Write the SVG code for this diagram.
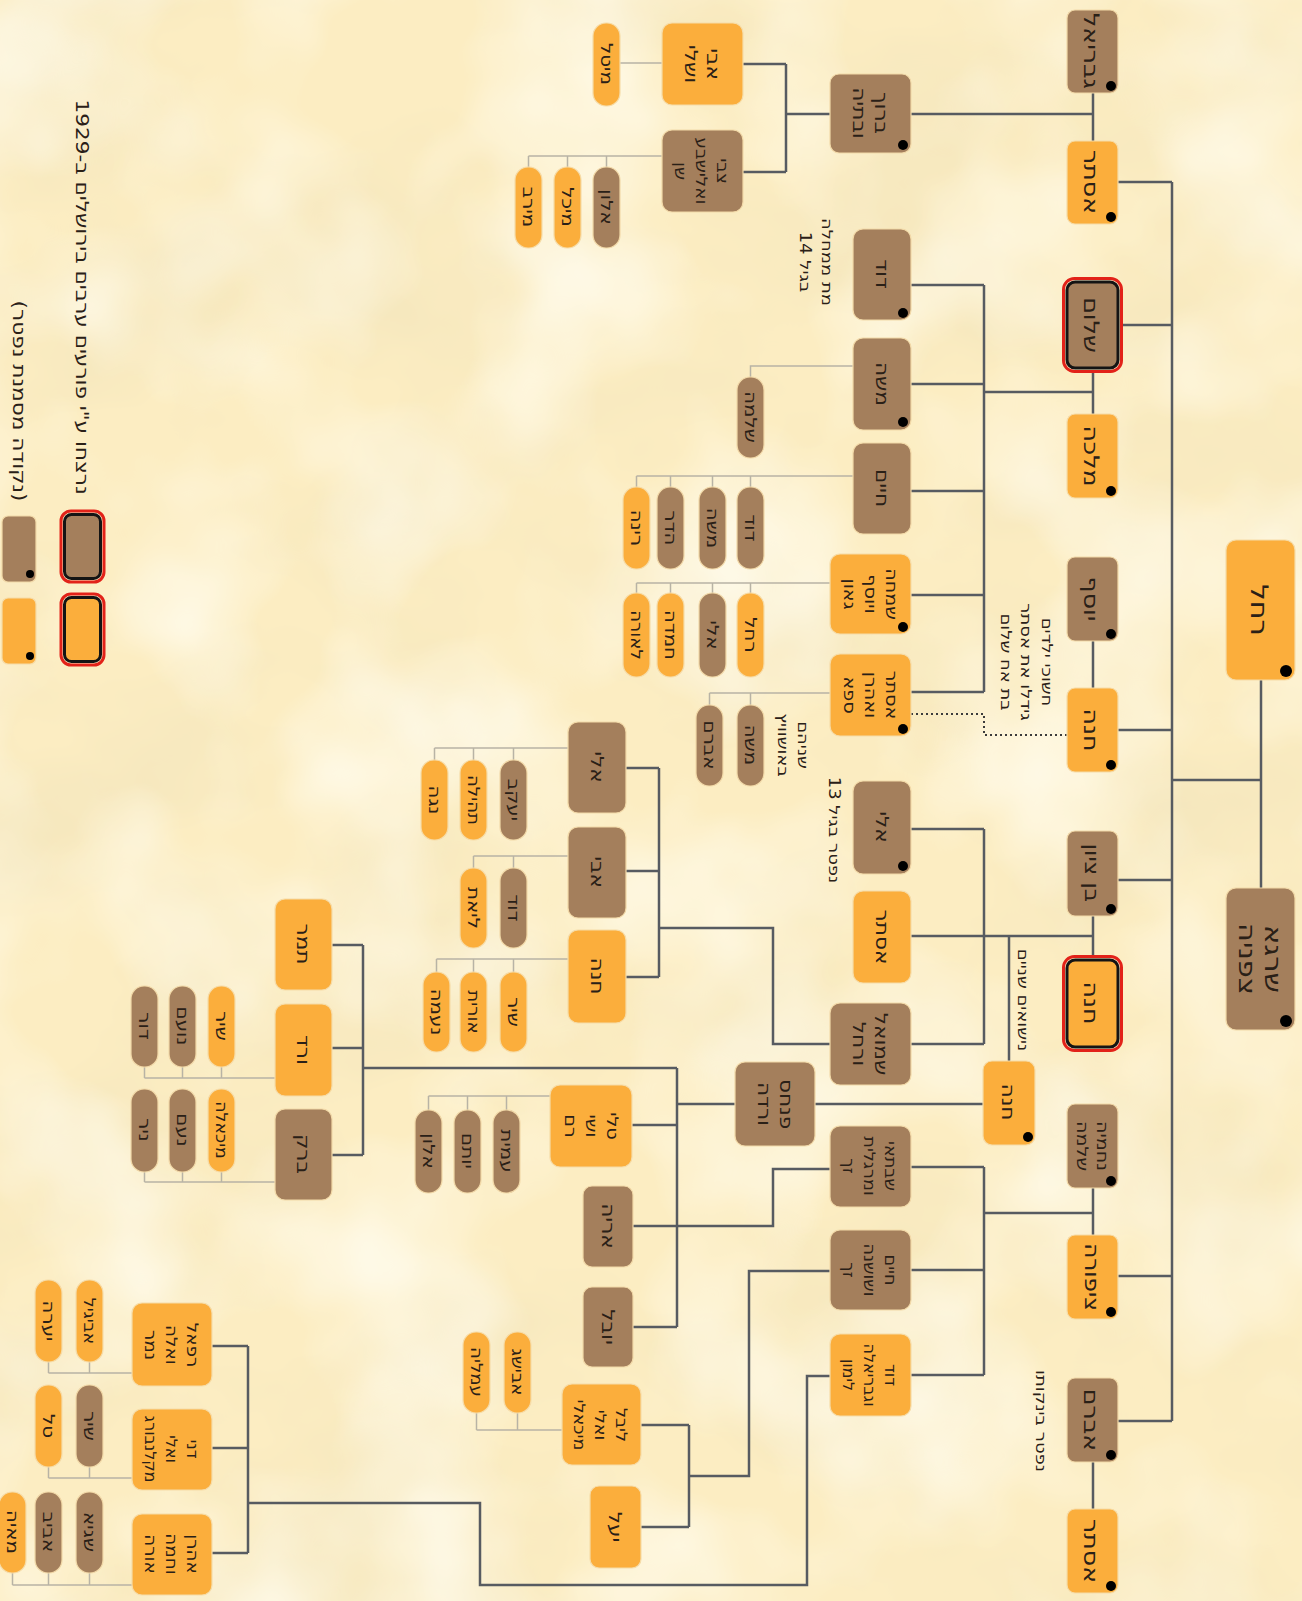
<svg xmlns="http://www.w3.org/2000/svg" width="1302" height="1601" viewBox="0 0 1302 1601">
<defs>
<filter id="parch" x="0" y="0" width="1" height="1">
<feTurbulence type="fractalNoise" baseFrequency="0.004 0.0055" numOctaves="4" seed="11"/>
<feColorMatrix type="matrix" values="0 0 0 0 0.89  0 0 0 0 0.78  0 0 0 0 0.50  1.6 0 0 0 -0.68"/>
</filter>
<filter id="parch2" x="0" y="0" width="1" height="1">
<feTurbulence type="fractalNoise" baseFrequency="0.006" numOctaves="3" seed="4"/>
<feColorMatrix type="matrix" values="0 0 0 0 1  0 0 0 0 0.98  0 0 0 0 0.88  1.6 0 0 0 -0.62"/>
</filter>
<style>
.b{fill:#a47f5c;stroke:#f2d9a8;stroke-width:1.2}
.o{fill:#fbae3c;stroke:#f6dca8;stroke-width:1.2}
.c{stroke:#575b61;stroke-width:2.5;fill:none}
.t{stroke:#b8b3a5;stroke-width:1.5;fill:none}
.d{stroke:#3b3b3b;stroke-width:2;fill:none;stroke-dasharray:2 3}
.dot{fill:#000}
.red{fill:none;stroke:#e22219;stroke-width:3}
.blk{stroke:#141414;stroke-width:3}
text{font-family:'DejaVu Sans','Liberation Sans',sans-serif;fill:#2a2017;text-anchor:middle;direction:rtl;dominant-baseline:central}
.f1{font-size:24px}.f2{font-size:21px}.f3{font-size:18px}.f4{font-size:16px}.fp{font-size:16.5px}.fa{font-size:15px}.fl{font-size:18px}
</style>
</defs>
<rect width="1302" height="1601" fill="#fcedc2"/>
<rect width="1302" height="1601" filter="url(#parch)"/>
<rect width="1302" height="1601" filter="url(#parch2)"/>

<g id="connectors">
<path class="c" d="M1172 780H1261M1261 680V888M1172 182V1421"/>
<path class="c" d="M1118 182H1172M1121 325H1172M1118 730H1172M1118 880H1172M1118 1276H1172M1118 1421H1172"/>
<path class="c" d="M1093 93V141M1093 371V414M1093 641V688M1093 916V957M1093 1188V1235M1093 1462V1509"/>
<path class="c" d="M1093 114H911M830 114H786M786 64V172M743 64H786M743 172H786"/>
<path class="c" d="M1093 392H984M984 285V692M911 285H984M911 384H984M911 491H984M911 595H984M911 692H984"/>
<path class="c" d="M1093 936H911M984 829V1044M911 829H984M911 1044H984M1009 936V1061"/>
<path class="c" d="M983 1104H815M735 1104H677M677 1068V1327M363 1068H677M632 1125H677M633 1327H677"/>
<path class="c" d="M363 945V1155M332 945H363M332 1048H363M332 1155H363"/>
<path class="c" d="M1093 1213H984M984 1167V1375M911 1167H984M911 1270H984M911 1375H984"/>
<path class="c" d="M830 1169H773V1226H633"/>
<path class="c" d="M830 1271H749V1476H689M689 1425V1527M641 1425H689M641 1527H689"/>
<path class="c" d="M830 1376H807V1585H480V1503H248M248 1346V1553M212 1346H248M212 1448H248M212 1553H248"/>
<path class="c" d="M626 768H659M626 871H659M626 977H659M659 768V977M659 928H773V1044H830"/>
<path class="d" d="M911 714H984V735H1067"/>
<path class="t" d="M662 63H620M662 156H528.5M606.5 156V167M567.5 156V167M528.5 156V167"/>
<path class="t" d="M853 366H750.5V377M853 476H636.5M750.5 476V487M712.5 476V487M670.5 476V487M636.5 476V487"/>
<path class="t" d="M830 583H636.5M750.5 583V593M712.5 583V593M670.5 583V593M636.5 583V593M830 693H709.5M750.5 693V705M709.5 693V705"/>
<path class="t" d="M568 748H434.5M513.5 748V760M473.5 748V760M434.5 748V760M568 856H473.5M513.5 856V868M473.5 856V868M568 959H436.5M513.5 959V972M473.5 959V972M436.5 959V972"/>
<path class="t" d="M275 1078H144.5M221.5 1078V1067M182.5 1078V1067M144.5 1078V1067M275 1182H144.5M221.5 1182V1172M182.5 1182V1172M144.5 1182V1172"/>
<path class="t" d="M550 1096H428.5M506.5 1096V1110M467.5 1096V1110M428.5 1096V1110M562 1430H476.5M517.5 1430V1413M476.5 1430V1413"/>
<path class="t" d="M132 1373H48.5M89.5 1373V1362M48.5 1373V1362M132 1478H48.5M89.5 1478V1467M48.5 1478V1467M132 1585H12.5M89.5 1585V1573M48.5 1585V1573M12.5 1585V1573"/>
</g>

<g id="rachel"><rect class="o" x="1226" y="540" width="69" height="140" rx="10"/><circle class="dot" cx="1286" cy="671" r="6"/><text class="f1" transform="translate(1260 610) rotate(90) scale(1.2 1)">רחל</text></g>
<g id="shraga"><rect class="b" x="1226" y="888" width="69" height="142" rx="10"/><circle class="dot" cx="1286" cy="1021" r="6"/><text class="f1" transform="translate(1261 959) rotate(90) scale(1.2 1)"><tspan x="0" y="-13">שרגא</tspan><tspan x="0" y="13">צפניה</tspan></text></g>

<g id="g1"><rect class="b" x="1067" y="10" width="51" height="83" rx="8"/><circle class="dot" cx="1111" cy="86" r="5"/><text class="f2" transform="translate(1092 51) rotate(90) scale(1.2 1)">גבריאל</text></g>
<g id="g2"><rect class="o" x="1067" y="141" width="51" height="83" rx="8"/><circle class="dot" cx="1111" cy="217" r="5"/><text class="f2" transform="translate(1092 182) rotate(90) scale(1.2 1)">אסתר</text></g>
<g id="g3"><rect class="red" x="1063.5" y="278.5" width="58" height="93" rx="11"/><rect class="b blk" x="1067" y="282" width="51" height="86" rx="8"/><text class="f2" transform="translate(1092 325) rotate(90) scale(1.2 1)">שלום</text></g>
<g id="g4"><rect class="o" x="1067" y="414" width="51" height="84" rx="8"/><circle class="dot" cx="1111" cy="491" r="5"/><text class="f2" transform="translate(1092 456) rotate(90) scale(1.2 1)">מלכה</text></g>
<g id="g5"><rect class="b" x="1067" y="557" width="51" height="84" rx="8"/><circle class="dot" cx="1111" cy="634" r="5"/><text class="f2" transform="translate(1092 599) rotate(90) scale(1.2 1)">יוסף</text></g>
<g id="g6"><rect class="o" x="1067" y="688" width="51" height="84" rx="8"/><circle class="dot" cx="1111" cy="765" r="5"/><text class="f2" transform="translate(1092 730) rotate(90) scale(1.2 1)">חנה</text></g>
<g id="g7"><rect class="b" x="1067" y="831" width="51" height="85" rx="8"/><circle class="dot" cx="1111" cy="909" r="5"/><text class="f2" transform="translate(1092 873) rotate(90) scale(1.1 1)">בן ציון</text></g>
<g id="g8"><rect class="red" x="1063.5" y="956.5" width="58" height="94" rx="11"/><rect class="o blk" x="1067" y="960" width="51" height="87" rx="8"/><text class="f2" transform="translate(1092 1003) rotate(90) scale(1.2 1)">חנה</text></g>
<g id="g9"><rect class="b" x="1067" y="1104" width="51" height="84" rx="8"/><circle class="dot" cx="1111" cy="1181" r="5"/><text class="f4" transform="translate(1092 1146) rotate(90) scale(1.2 1)"><tspan x="0" y="-10">נחמיה</tspan><tspan x="0" y="10">שלמה</tspan></text></g>
<g id="g10"><rect class="o" x="1067" y="1235" width="51" height="84" rx="8"/><circle class="dot" cx="1111" cy="1312" r="5"/><text class="f2" transform="translate(1092 1277) rotate(90) scale(1.1 1)">ציפורה</text></g>
<g id="g11"><rect class="b" x="1067" y="1378" width="51" height="84" rx="8"/><circle class="dot" cx="1111" cy="1455" r="5"/><text class="f2" transform="translate(1092 1420) rotate(90) scale(1.2 1)">אברם</text></g>
<g id="g12"><rect class="o" x="1067" y="1509" width="51" height="84" rx="8"/><circle class="dot" cx="1111" cy="1586" r="5"/><text class="f2" transform="translate(1092 1551) rotate(90) scale(1.2 1)">אסתר</text></g>

<g id="t1"><rect class="b" x="830" y="74" width="81" height="79" rx="9"/><circle class="dot" cx="903" cy="145" r="5"/><text class="f3" transform="translate(870 113) rotate(90) scale(1.2 1)"><tspan x="0" y="-11">ברוך</tspan><tspan x="0" y="11">ובתיה</tspan></text></g>
<g id="t2"><rect class="o" x="662" y="23" width="81" height="82" rx="10"/><text class="f3" transform="translate(702 64) rotate(90) scale(1.2 1)"><tspan x="0" y="-11">אבי</tspan><tspan x="0" y="11">ושלי</tspan></text></g>
<g id="t3"><rect class="o" x="593" y="23" width="27" height="83" rx="13"/><text class="fp" transform="translate(606.5 64) rotate(90) scale(1.2 1)">מיטל</text></g>
<g id="t4"><rect class="b" x="662" y="130" width="81" height="82" rx="10"/><text class="f4" transform="translate(702 171) rotate(90) scale(1.15 1)"><tspan x="0" y="-21">צבי</tspan><tspan x="0" y="0">ואלישבע</tspan><tspan x="0" y="21">שן</tspan></text></g>
<g id="t5"><rect class="b" x="593" y="167" width="27" height="81" rx="13"/><text class="fp" transform="translate(606.5 207) rotate(90) scale(1.2 1)">אלון</text></g>
<g id="t6"><rect class="o" x="554" y="167" width="27" height="81" rx="13"/><text class="fp" transform="translate(567.5 207) rotate(90) scale(1.2 1)">מיכל</text></g>
<g id="t7"><rect class="o" x="515" y="167" width="27" height="81" rx="13"/><text class="fp" transform="translate(528.5 207) rotate(90) scale(1.2 1)">מירב</text></g>

<g id="d1"><rect class="b" x="853" y="229" width="58" height="91" rx="10"/><circle class="dot" cx="903" cy="313" r="5"/><text class="f3" transform="translate(882 274) rotate(90) scale(1.2 1)">דוד</text></g>
<g id="d2"><rect class="b" x="853" y="338" width="58" height="92" rx="10"/><circle class="dot" cx="903" cy="422" r="5"/><text class="f3" transform="translate(882 384) rotate(90) scale(1.2 1)">משה</text></g>
<g id="d3"><rect class="b" x="853" y="443" width="58" height="91" rx="10"/><text class="f3" transform="translate(882 488) rotate(90) scale(1.2 1)">חיים</text></g>
<g id="d4"><rect class="o" x="830" y="554" width="81" height="80" rx="10"/><circle class="dot" cx="903" cy="627" r="5"/><text class="f4" transform="translate(870 594) rotate(90) scale(1.2 1)"><tspan x="0" y="-21">שמחה</tspan><tspan x="0" y="0">ויוסף</tspan><tspan x="0" y="21">גאון</tspan></text></g>
<g id="d5"><rect class="o" x="830" y="654" width="81" height="82" rx="10"/><circle class="dot" cx="903" cy="729" r="5"/><text class="f4" transform="translate(870 695) rotate(90) scale(1.2 1)"><tspan x="0" y="-21">אסתר</tspan><tspan x="0" y="0">ואהרן</tspan><tspan x="0" y="21">ספא</tspan></text></g>
<g id="p1"><rect class="b" x="737" y="377" width="27" height="81" rx="13"/><text class="fp" transform="translate(750.5 417) rotate(90) scale(1.2 1)">שלמה</text></g>
<g id="p2"><rect class="b" x="737" y="487" width="27" height="82" rx="13"/><text class="fp" transform="translate(750.5 528) rotate(90) scale(1.2 1)">דוד</text></g>
<g id="p3"><rect class="b" x="699" y="487" width="27" height="82" rx="13"/><text class="fp" transform="translate(712.5 528) rotate(90) scale(1.2 1)">משה</text></g>
<g id="p4"><rect class="b" x="657" y="487" width="27" height="82" rx="13"/><text class="fp" transform="translate(670.5 528) rotate(90) scale(1.2 1)">הדר</text></g>
<g id="p5"><rect class="o" x="623" y="487" width="27" height="82" rx="13"/><text class="fp" transform="translate(636.5 528) rotate(90) scale(1.2 1)">רינה</text></g>
<g id="p6"><rect class="o" x="737" y="593" width="27" height="84" rx="13"/><text class="fp" transform="translate(750.5 635) rotate(90) scale(1.2 1)">רחל</text></g>
<g id="p7"><rect class="b" x="699" y="593" width="27" height="84" rx="13"/><text class="fp" transform="translate(712.5 635) rotate(90) scale(1.2 1)">אלי</text></g>
<g id="p8"><rect class="o" x="657" y="593" width="27" height="84" rx="13"/><text class="fp" transform="translate(670.5 635) rotate(90) scale(1.2 1)">חמדה</text></g>
<g id="p9"><rect class="o" x="623" y="593" width="27" height="84" rx="13"/><text class="fp" transform="translate(636.5 635) rotate(90) scale(1.1 1)">לאורה</text></g>
<g id="p10"><rect class="b" x="737" y="705" width="27" height="81" rx="13"/><text class="fp" transform="translate(750.5 745) rotate(90) scale(1.2 1)">משה</text></g>
<g id="p11"><rect class="b" x="696" y="705" width="27" height="81" rx="13"/><text class="fp" transform="translate(709.5 745) rotate(90) scale(1.2 1)">אברם</text></g>

<g id="e1"><rect class="b" x="853" y="781" width="58" height="93" rx="10"/><circle class="dot" cx="903" cy="866" r="5"/><text class="f3" transform="translate(882 827) rotate(90) scale(1.2 1)">אלי</text></g>
<g id="e2"><rect class="o" x="853" y="891" width="58" height="92" rx="10"/><text class="f3" transform="translate(882 937) rotate(90) scale(1.2 1)">אסתר</text></g>
<g id="e3"><rect class="b" x="830" y="1003" width="81" height="82" rx="10"/><text class="f3" transform="translate(870 1044) rotate(90) scale(1.2 1)"><tspan x="0" y="-11">שמואל</tspan><tspan x="0" y="11">ורחל</tspan></text></g>
<g id="e4"><rect class="o" x="983" y="1061" width="52" height="84" rx="9"/><circle class="dot" cx="1028" cy="1137" r="5"/><text class="f3" transform="translate(1008 1102) rotate(90) scale(1.2 1)">חנה</text></g>
<g id="f1"><rect class="b" x="735" y="1062" width="80" height="84" rx="10"/><text class="f3" transform="translate(775 1104) rotate(90) scale(1.2 1)"><tspan x="0" y="-11">פנחס</tspan><tspan x="0" y="11">ורדה</tspan></text></g>
<g id="h1"><rect class="b" x="830" y="1126" width="81" height="81" rx="10"/><text class="f4" transform="translate(870 1166) rotate(90) scale(1.1 1)"><tspan x="0" y="-21">שבתאי</tspan><tspan x="0" y="0">ומרגלית</tspan><tspan x="0" y="21">זך</tspan></text></g>
<g id="h2"><rect class="b" x="830" y="1230" width="81" height="80" rx="10"/><text class="f4" transform="translate(870 1270) rotate(90) scale(1.1 1)"><tspan x="0" y="-21">חיים</tspan><tspan x="0" y="0">ושושנה</tspan><tspan x="0" y="21">זך</tspan></text></g>
<g id="h3"><rect class="o" x="830" y="1334" width="81" height="82" rx="10"/><text class="f4" transform="translate(870 1375) rotate(90)"><tspan x="0" y="-21">דוד</tspan><tspan x="0" y="0">וגבריאלה</tspan><tspan x="0" y="21">לימון</tspan></text></g>

<g id="k1"><rect class="b" x="568" y="722" width="58" height="91" rx="10"/><text class="f3" transform="translate(597 767) rotate(90) scale(1.2 1)">אלי</text></g>
<g id="k2"><rect class="b" x="568" y="827" width="58" height="91" rx="10"/><text class="f3" transform="translate(597 872) rotate(90) scale(1.2 1)">אבי</text></g>
<g id="k3"><rect class="o" x="568" y="930" width="58" height="93" rx="10"/><text class="f3" transform="translate(597 976) rotate(90) scale(1.2 1)">חנה</text></g>
<g id="k1a"><rect class="b" x="500" y="760" width="27" height="80" rx="13"/><text class="fp" transform="translate(513.5 800) rotate(90) scale(1.2 1)">יעקב</text></g>
<g id="k1b"><rect class="o" x="460" y="760" width="27" height="80" rx="13"/><text class="fp" transform="translate(473.5 800) rotate(90) scale(1.1 1)">תהילה</text></g>
<g id="k1c"><rect class="o" x="421" y="760" width="27" height="80" rx="13"/><text class="fp" transform="translate(434.5 800) rotate(90) scale(1.2 1)">נגה</text></g>
<g id="k2a"><rect class="b" x="500" y="868" width="27" height="80" rx="13"/><text class="fp" transform="translate(513.5 908) rotate(90) scale(1.2 1)">דוד</text></g>
<g id="k2b"><rect class="o" x="460" y="868" width="27" height="80" rx="13"/><text class="fp" transform="translate(473.5 908) rotate(90) scale(1.2 1)">ליאת</text></g>
<g id="k3a"><rect class="o" x="500" y="972" width="27" height="80" rx="13"/><text class="fp" transform="translate(513.5 1012) rotate(90) scale(1.2 1)">שיר</text></g>
<g id="k3b"><rect class="o" x="460" y="972" width="27" height="80" rx="13"/><text class="fp" transform="translate(473.5 1012) rotate(90) scale(1.1 1)">אורית</text></g>
<g id="k3c"><rect class="o" x="423" y="972" width="27" height="80" rx="13"/><text class="fp" transform="translate(436.5 1012) rotate(90) scale(1.2 1)">נעמה</text></g>

<g id="k4"><rect class="o" x="275" y="899" width="57" height="91" rx="10"/><text class="f3" transform="translate(303 944) rotate(90) scale(1.2 1)">תמר</text></g>
<g id="k5"><rect class="o" x="275" y="1004" width="57" height="92" rx="10"/><text class="f3" transform="translate(303 1050) rotate(90) scale(1.2 1)">ורד</text></g>
<g id="k6"><rect class="b" x="275" y="1109" width="57" height="91" rx="10"/><text class="f3" transform="translate(303 1154) rotate(90) scale(1.2 1)">ברק</text></g>
<g id="k5a"><rect class="o" x="208" y="986" width="27" height="81" rx="13"/><text class="fp" transform="translate(221.5 1026) rotate(90) scale(1.2 1)">שיר</text></g>
<g id="k5b"><rect class="b" x="169" y="986" width="27" height="81" rx="13"/><text class="fp" transform="translate(182.5 1026) rotate(90) scale(1.2 1)">נועם</text></g>
<g id="k5c"><rect class="b" x="131" y="986" width="27" height="81" rx="13"/><text class="fp" transform="translate(144.5 1026) rotate(90) scale(1.2 1)">דור</text></g>
<g id="k6a"><rect class="o" x="208" y="1089" width="27" height="83" rx="13"/><text class="fp" transform="translate(221.5 1130) rotate(90) scale(1.05 1)">מיכאלה</text></g>
<g id="k6b"><rect class="b" x="169" y="1089" width="27" height="83" rx="13"/><text class="fp" transform="translate(182.5 1130) rotate(90) scale(1.2 1)">נעם</text></g>
<g id="k6c"><rect class="b" x="131" y="1089" width="27" height="83" rx="13"/><text class="fp" transform="translate(144.5 1130) rotate(90) scale(1.2 1)">ניר</text></g>

<g id="k7"><rect class="o" x="550" y="1085" width="82" height="82" rx="10"/><text class="f4" transform="translate(591 1126) rotate(90) scale(1.2 1)"><tspan x="0" y="-21">טלי</tspan><tspan x="0" y="0">ושי</tspan><tspan x="0" y="21">רם</tspan></text></g>
<g id="k7a"><rect class="b" x="493" y="1110" width="27" height="83" rx="13"/><text class="fp" transform="translate(506.5 1151) rotate(90) scale(1.2 1)">עמית</text></g>
<g id="k7b"><rect class="b" x="454" y="1110" width="27" height="83" rx="13"/><text class="fp" transform="translate(467.5 1151) rotate(90) scale(1.2 1)">יותם</text></g>
<g id="k7c"><rect class="b" x="415" y="1110" width="27" height="83" rx="13"/><text class="fp" transform="translate(428.5 1151) rotate(90) scale(1.2 1)">אלון</text></g>
<g id="k8"><rect class="b" x="583" y="1186" width="50" height="81" rx="9"/><text class="f3" transform="translate(608 1226) rotate(90) scale(1.2 1)">אריה</text></g>
<g id="k9"><rect class="b" x="583" y="1287" width="50" height="80" rx="9"/><text class="f3" transform="translate(608 1327) rotate(90) scale(1.2 1)">יובל</text></g>
<g id="k10"><rect class="o" x="562" y="1384" width="79" height="81" rx="10"/><text class="f4" transform="translate(601 1425) rotate(90) scale(1.1 1)"><tspan x="0" y="-21">ליבל</tspan><tspan x="0" y="0">ואלי</tspan><tspan x="0" y="21">מיכאלי</tspan></text></g>
<g id="k10a"><rect class="o" x="504" y="1332" width="27" height="81" rx="13"/><text class="fp" transform="translate(517.5 1372) rotate(90) scale(1.1 1)">אבישג</text></g>
<g id="k10b"><rect class="o" x="463" y="1332" width="27" height="81" rx="13"/><text class="fp" transform="translate(476.5 1372) rotate(90) scale(1.1 1)">עמליה</text></g>
<g id="k11"><rect class="o" x="590" y="1486" width="51" height="82" rx="9"/><text class="f3" transform="translate(615 1527) rotate(90) scale(1.2 1)">יעל</text></g>

<g id="k12"><rect class="o" x="132" y="1303" width="80" height="83" rx="10"/><text class="f4" transform="translate(172 1345) rotate(90) scale(1.15 1)"><tspan x="0" y="-21">רפאל</tspan><tspan x="0" y="0">ואלה</tspan><tspan x="0" y="21">נמר</tspan></text></g>
<g id="k12a"><rect class="o" x="76" y="1280" width="27" height="82" rx="13"/><text class="fp" transform="translate(89.5 1321) rotate(90) scale(1.05 1)">אביגיל</text></g>
<g id="k12b"><rect class="o" x="35" y="1280" width="27" height="82" rx="13"/><text class="fp" transform="translate(48.5 1321) rotate(90) scale(1.2 1)">יערה</text></g>
<g id="k13"><rect class="o" x="132" y="1409" width="80" height="81" rx="10"/><text class="f4" transform="translate(172 1449) rotate(90)"><tspan x="0" y="-21">דני</tspan><tspan x="0" y="0">ואלי</tspan><tspan x="0" y="21">מקלנבורג</tspan></text></g>
<g id="k13a"><rect class="b" x="76" y="1385" width="27" height="82" rx="13"/><text class="fp" transform="translate(89.5 1426) rotate(90) scale(1.2 1)">שיר</text></g>
<g id="k13b"><rect class="o" x="35" y="1385" width="27" height="82" rx="13"/><text class="fp" transform="translate(48.5 1426) rotate(90) scale(1.2 1)">טל</text></g>
<g id="k14"><rect class="o" x="132" y="1514" width="80" height="81" rx="10"/><text class="f4" transform="translate(172 1554) rotate(90) scale(1.15 1)"><tspan x="0" y="-21">אהרן</tspan><tspan x="0" y="0">וחמה</tspan><tspan x="0" y="21">אורה</tspan></text></g>
<g id="k14a"><rect class="b" x="76" y="1492" width="27" height="81" rx="13"/><text class="fp" transform="translate(89.5 1532) rotate(90) scale(1.2 1)">שגיא</text></g>
<g id="k14b"><rect class="b" x="35" y="1492" width="27" height="81" rx="13"/><text class="fp" transform="translate(48.5 1532) rotate(90) scale(1.2 1)">אביב</text></g>
<g id="k14c"><rect class="o" x="-1" y="1492" width="27" height="81" rx="13"/><text class="fp" transform="translate(12.5 1532) rotate(90) scale(1.2 1)">מאיה</text></g>

<g id="notes">
<text class="fa" transform="translate(827 262) rotate(90) scale(1.2 1)">מת ממחלה</text>
<text class="fa" transform="translate(805 262) rotate(90) scale(1.2 1)">בגיל 14</text>
<text class="fa" transform="translate(834 830) rotate(90) scale(1.2 1)">נפטר בגיל 13</text>
<text class="fa" transform="translate(803 745) rotate(90) scale(1.2 1)">שניהם</text>
<text class="fa" transform="translate(783 745) rotate(90) scale(1.2 1)">באושוויץ</text>
<text class="fa" transform="translate(1047 662) rotate(90) scale(1.2 1)">חשוכי ילדים</text>
<text class="fa" transform="translate(1026 662) rotate(90) scale(1.2 1)">גידלו את אסתר</text>
<text class="fa" transform="translate(1006 662) rotate(90) scale(1.2 1)">בת אח שלום</text>
<text class="fa" transform="translate(1023 1000) rotate(90) scale(1.2 1)">נישואים שניים</text>
<text class="fa" transform="translate(1041 1421) rotate(90) scale(1.2 1)">נפטר בינקותו</text>
</g>

<g id="legend">
<rect class="red" x="61" y="511" width="43" height="71" rx="10"/><rect class="b blk" x="64.5" y="514.5" width="36" height="64" rx="7"/>
<rect class="red" x="61" y="594" width="43" height="71" rx="10"/><rect class="o blk" x="64.5" y="597.5" width="36" height="64" rx="7"/>
<rect class="b" x="2" y="516" width="34" height="66" rx="6"/><circle class="dot" cx="30" cy="574" r="4"/>
<rect class="o" x="2" y="598" width="34" height="66" rx="6"/><circle class="dot" cx="30" cy="656" r="4"/>
<text class="fl" transform="translate(82 297) rotate(90) scale(1.2 1)">נרצחו ע"י פורעים ערבים בירושלים ב-1929</text>
<text class="fl" transform="translate(19 401) rotate(90) scale(1.2 1)">(נקודה מסמנת נפטר)</text>
</g>
</svg>
